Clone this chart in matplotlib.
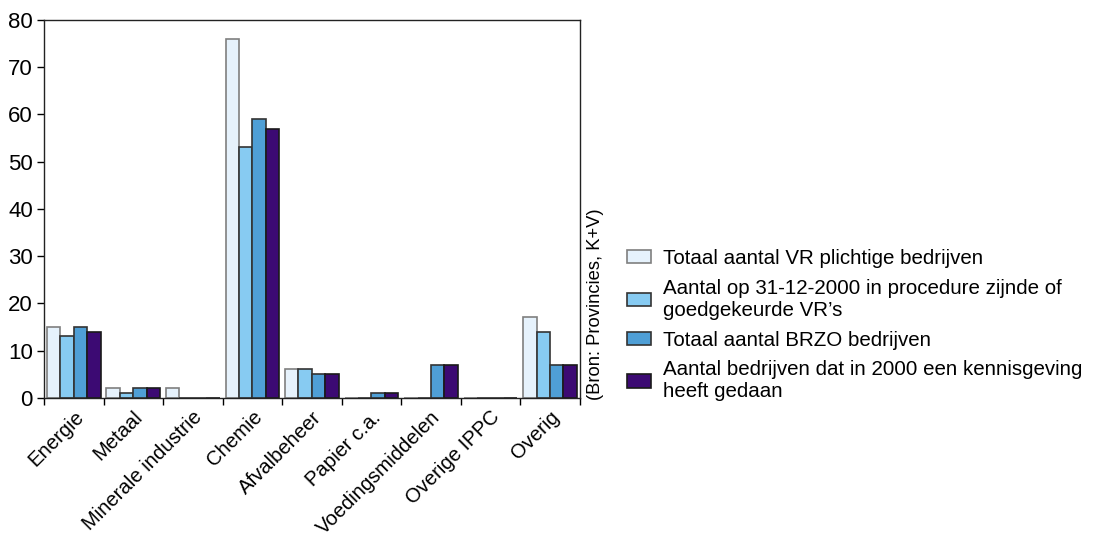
import matplotlib
matplotlib.use("Agg")
import matplotlib.pyplot as plt
import numpy as np

plt.rcParams["font.family"] = ["Liberation Sans", "DejaVu Sans"]

categories = ["Energie", "Metaal", "Minerale industrie", "Chemie", "Afvalbeheer",
              "Papier c.a.", "Voedingsmiddelen", "Overige IPPC", "Overig"]
totaal_vr = [15, 2, 2, 76, 6, 0, 0, 0, 17]
in_procedure = [13, 1, 0, 53, 6, 0, 0, 0, 14]
totaal_brzo = [15, 2, 0, 59, 5, 1, 7, 0, 7]
kennisgeving = [14, 2, 0, 57, 5, 1, 7, 0, 7]

series_labels = [
    "Totaal aantal VR plichtige bedrijven",
    "Aantal op 31-12-2000 in procedure zijnde of\ngoedgekeurde VR\u2019s",
    "Totaal aantal BRZO bedrijven",
    "Aantal bedrijven dat in 2000 een kennisgeving\nheeft gedaan",
]
colors = ["#E6F2FC", "#87CBF2", "#4F9FD6", "#3C0A73"]
edges = ["#7F7F7F", "#333333", "#333333", "#1A1A1A"]

fig = plt.figure(figsize=(11, 5.39), dpi=100)
ax = fig.add_axes([0.04, 0.262, 0.487, 0.701])

x = np.arange(len(categories))
width = 0.225
data = [totaal_vr, in_procedure, totaal_brzo, kennisgeving]
handles = []
for i, vals in enumerate(data):
    bars = ax.bar(x + (i - 1.5) * width, vals, width, color=colors[i],
                  edgecolor=edges[i], linewidth=1.2, label=series_labels[i])
    handles.append(bars)

ax.set_xlim(-0.5, len(categories) - 0.5)
ax.set_ylim(0, 80)
ax.set_yticks(range(0, 81, 10))
ax.tick_params(axis="y", labelsize=16, length=5, width=1, pad=3)
ax.set_xticks(np.arange(-0.5, len(categories), 1.0))
ax.set_xticklabels([])
ax.tick_params(axis="x", length=5, width=1)
ax.set_xticks(x, minor=True)
ax.set_xticklabels(categories, minor=True, rotation=45, ha="right",
                   rotation_mode="anchor", fontsize=14.6)
ax.tick_params(axis="x", which="minor", length=0, pad=7)
for s in ax.spines.values():
    s.set_linewidth(1.0)
    s.set_color("#222222")

fig.text(0.541, 0.436, "(Bron: Provincies, K+V)", rotation=90, ha="center",
         va="center", fontsize=13.2)

fig.legend(handles=handles, labels=series_labels, loc="upper left",
           bbox_to_anchor=(0.553, 0.572), frameon=False, fontsize=14.8,
           handlelength=1.18, handleheight=0.6, handletextpad=0.6,
           labelspacing=0.52)

fig.savefig("out.png", dpi=100)
